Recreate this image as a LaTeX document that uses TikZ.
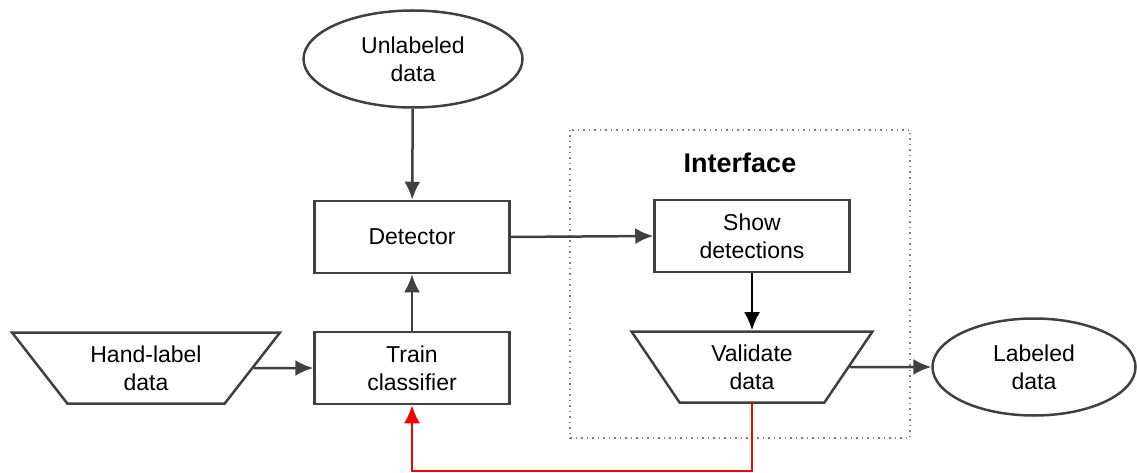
\documentclass[tikz,border=0pt]{standalone}
\usepackage{fontspec}
\setmainfont{Liberation Sans}
\usetikzlibrary{shapes.geometric,arrows.meta}

\begin{document}
\begin{tikzpicture}[x=1pt,y=-1pt,
    every node/.style={font=\fontsize{23}{28}\selectfont,align=center,
      line width=2.5pt,draw=black!75},
    procbox/.style={rectangle,minimum width=195pt,minimum height=72pt},
    databox/.style={ellipse,minimum width=219pt,minimum height=97pt},
    iobox/.style={trapezium,shape border rotate=180,trapezium stretches body,
      minimum height=71pt},
    flow/.style={-{Latex[length=18pt,width=16pt]},line width=2.5pt,draw=black!75}]
  \useasboundingbox (0,0) rectangle (1137,473);
  % interface frame
  \draw [gray,line width=1.5pt,dash pattern=on 1.5pt off 4pt]
    (570,130) rectangle (910,438);
  \node [draw=none,font=\bfseries\fontsize{27}{32}\selectfont] (iface) at (740,163) {Interface};
  % nodes
  \node [databox] (unlab) at (413,59) {Unlabeled\\data};
  \node [procbox] (det) at (412,237) {Detector};
  \node [procbox] (train) at (412,368) {Train\\classifier};
  \node [iobox,trapezium angle=43,minimum width=268pt] (hand) at (146,368) {Hand-label\\data};
  \node [procbox] (show) at (752,236) {Show\\detections};
  \node [iobox,trapezium angle=47,minimum width=241pt] (valid) at (752,367) {Validate\\data};
  \node [databox,minimum width=203pt] (lab) at (1034,367) {Labeled\\data};
  % connectors
  \draw [flow] (unlab) -- (det);
  \draw [flow] (train) -- (det);
  \draw [flow] (hand.east) -- (train.west);
  \draw [flow] (det.east) -- (show.west);
  \draw [flow,draw=black] (show) -- (valid);
  \draw [flow] (valid.east) -- (lab.west);
  \draw [flow,draw=red] (valid.south) -- ++(0,67) -| (train.south);
\end{tikzpicture}
\end{document}
